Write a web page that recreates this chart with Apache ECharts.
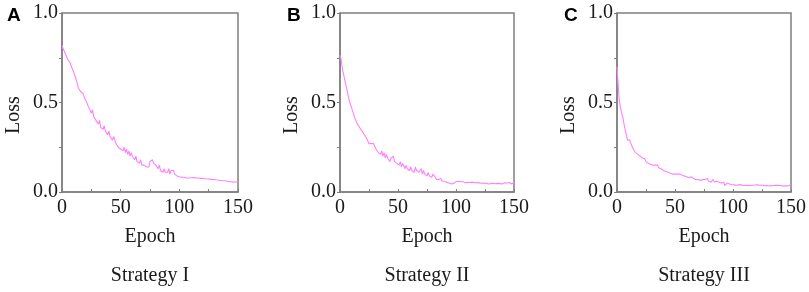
<!DOCTYPE html>
<html>
<head>
<meta charset="utf-8">
<script src="https://cdn.jsdelivr.net/npm/echarts@6/dist/echarts.min.js"></script>
<style>
html,body{margin:0;padding:0;background:#fff;}
#chart{width:809px;height:292px;}
</style>
</head>
<body>
<div id="chart"></div>
<script>
// ---- Data ----
const panelLetters = ['A', 'B', 'C'];
const strategyNames = ['Strategy I', 'Strategy II', 'Strategy III'];
const xTicks = [0, 50, 100, 150];
const yTicks = [0.0, 0.5, 1.0];

const lossA = [
  0.82, 0.80, 0.79, 0.77, 0.76, 0.74, 0.73, 0.72, 0.70, 0.69,
  0.67, 0.66, 0.63, 0.62, 0.58, 0.59, 0.56, 0.57, 0.55, 0.53,
  0.52, 0.50, 0.51, 0.47, 0.48, 0.44, 0.46, 0.42, 0.43, 0.40,
  0.41, 0.38, 0.40, 0.36, 0.37, 0.35, 0.37, 0.34, 0.35, 0.32,
  0.34, 0.31, 0.32, 0.29, 0.31, 0.30, 0.27, 0.28, 0.25, 0.26,
  0.24, 0.25, 0.23, 0.25, 0.22, 0.24, 0.21, 0.23, 0.20, 0.22,
  0.20, 0.21, 0.18, 0.20, 0.17, 0.18, 0.16, 0.18, 0.15, 0.16,
  0.15, 0.16, 0.14, 0.15, 0.14, 0.17, 0.16, 0.18, 0.16, 0.17,
  0.15, 0.16, 0.13, 0.15, 0.12, 0.13, 0.11, 0.13, 0.11, 0.12,
  0.11, 0.13, 0.10, 0.12, 0.11, 0.12, 0.10, 0.11, 0.09, 0.10,
  0.085, 0.090, 0.083, 0.088, 0.082, 0.086, 0.079, 0.084, 0.078, 0.082,
  0.080, 0.087, 0.081, 0.085, 0.079, 0.083, 0.078, 0.082, 0.076, 0.080,
  0.076, 0.080, 0.074, 0.078, 0.073, 0.078, 0.072, 0.075, 0.070, 0.074,
  0.070, 0.073, 0.067, 0.071, 0.066, 0.070, 0.064, 0.069, 0.063, 0.067,
  0.061, 0.066, 0.059, 0.064, 0.057, 0.062, 0.055, 0.061, 0.056, 0.059, 0.060
];

const lossB = [
  0.765, 0.74, 0.69, 0.66, 0.63, 0.60, 0.57, 0.54, 0.51, 0.49,
  0.47, 0.45, 0.43, 0.41, 0.40, 0.38, 0.38, 0.36, 0.35, 0.34,
  0.33, 0.32, 0.31, 0.30, 0.29, 0.27, 0.28, 0.27, 0.26, 0.27,
  0.26, 0.24, 0.25, 0.22, 0.23, 0.21, 0.23, 0.20, 0.22, 0.19,
  0.21, 0.19, 0.20, 0.17, 0.19, 0.18, 0.20, 0.17, 0.18, 0.16,
  0.17, 0.15, 0.17, 0.14, 0.16, 0.15, 0.13, 0.15, 0.13, 0.14,
  0.12, 0.14, 0.12, 0.13, 0.11, 0.14, 0.12, 0.13, 0.11, 0.12,
  0.13, 0.10, 0.12, 0.10, 0.11, 0.09, 0.11, 0.09, 0.10, 0.08,
  0.10, 0.09, 0.085, 0.07, 0.08, 0.07, 0.065, 0.075, 0.06, 0.07,
  0.060, 0.062, 0.055, 0.058, 0.050, 0.052, 0.045, 0.040, 0.048, 0.042,
  0.058, 0.055, 0.060, 0.056, 0.058, 0.053, 0.057, 0.055, 0.052, 0.056,
  0.054, 0.050, 0.053, 0.051, 0.055, 0.050, 0.052, 0.048, 0.053, 0.050,
  0.051, 0.054, 0.049, 0.052, 0.050, 0.053, 0.048, 0.051, 0.045, 0.050,
  0.047, 0.052, 0.049, 0.050, 0.046, 0.051, 0.048, 0.053, 0.047, 0.050,
  0.045, 0.049, 0.052, 0.047, 0.050, 0.046, 0.053, 0.048, 0.045, 0.050, 0.055
];

const lossC = [
  0.70, 0.60, 0.51, 0.47, 0.44, 0.42, 0.38, 0.35, 0.32, 0.29,
  0.30, 0.29, 0.27, 0.26, 0.24, 0.23, 0.22, 0.215, 0.21, 0.20,
  0.20, 0.19, 0.19, 0.18, 0.185, 0.17, 0.175, 0.16, 0.165, 0.155,
  0.16, 0.15, 0.145, 0.15, 0.14, 0.15, 0.135, 0.14, 0.13, 0.125,
  0.12, 0.13, 0.115, 0.12, 0.11, 0.115, 0.105, 0.11, 0.10, 0.105,
  0.10, 0.095, 0.10, 0.105, 0.10, 0.105, 0.095, 0.10, 0.09, 0.095,
  0.085, 0.09, 0.08, 0.09, 0.085, 0.08, 0.075, 0.085, 0.07, 0.08,
  0.07, 0.075, 0.065, 0.075, 0.07, 0.06, 0.07, 0.065, 0.075, 0.06,
  0.065, 0.055, 0.06, 0.07, 0.055, 0.05, 0.06, 0.05, 0.055, 0.045,
  0.05, 0.04, 0.055, 0.035, 0.045, 0.05, 0.04, 0.045, 0.035, 0.042,
  0.045, 0.04, 0.042, 0.038, 0.043, 0.04, 0.037, 0.041, 0.039, 0.036,
  0.04, 0.038, 0.041, 0.037, 0.039, 0.036, 0.04, 0.038, 0.035, 0.039,
  0.037, 0.04, 0.036, 0.038, 0.035, 0.039, 0.037, 0.034, 0.038, 0.036,
  0.039, 0.035, 0.037, 0.034, 0.038, 0.036, 0.033, 0.037, 0.035, 0.038,
  0.034, 0.036, 0.038, 0.033, 0.037, 0.035, 0.039, 0.034, 0.036, 0.038, 0.037
];

const lossSeries = [lossA, lossB, lossC];

// ---- Layout / style ----
const grids = [
  { left: 62, top: 13, width: 176, height: 179 },
  { left: 340, top: 13, width: 174, height: 179 },
  { left: 617, top: 13, width: 174, height: 179 }
];
const axisColor = '#7f7f7f';
const textColor = '#1a1a1a';
const serif = '"Liberation Serif", "Times New Roman", serif';
const lineColor = '#ff80ff';

const chart = echarts.init(document.getElementById('chart'), null, { renderer: 'canvas' });

const xAxes = grids.map((g, i) => ({
  type: 'value', gridIndex: i,
  min: xTicks[0], max: xTicks[xTicks.length - 1], interval: xTicks[1] - xTicks[0],
  axisLine: { show: true, lineStyle: { color: axisColor, width: 1.5 } },
  axisTick: { show: true, inside: true, length: 3, lineStyle: { color: axisColor } },
  minorTick: { show: true, splitNumber: 2, length: 3, lineStyle: { color: axisColor } },
  splitLine: { show: false },
  axisLabel: { color: textColor, fontFamily: serif, fontSize: 20, margin: 6 }
}));

const yAxes = grids.map((g, i) => ({
  type: 'value', gridIndex: i,
  min: yTicks[0], max: yTicks[yTicks.length - 1], interval: yTicks[1] - yTicks[0],
  axisLine: { show: true, lineStyle: { color: axisColor, width: 1.5 } },
  axisTick: { show: true, inside: false, length: 3, lineStyle: { color: axisColor } },
  minorTick: { show: true, splitNumber: 2, length: 3, lineStyle: { color: axisColor } },
  splitLine: { show: false },
  axisLabel: { color: textColor, fontFamily: serif, fontSize: 20, margin: 4,
               formatter: v => v.toFixed(1) }
}));

const series = lossSeries.map((arr, i) => ({
  type: 'line', xAxisIndex: i, yAxisIndex: i,
  data: arr.map((v, k) => [k, v]),
  showSymbol: false, symbol: 'none',
  lineStyle: { color: lineColor, width: 1.1 },
  animation: false
}));

const graphics = [];
grids.forEach((g, i) => {
  const cx = g.left + g.width / 2;
  graphics.push({ type: 'text', x: g.left - 55 + (i === 0 ? 0 : 2), y: 16,
    style: { text: panelLetters[i], fill: '#000', font: 'bold 19px "Liberation Sans", Arial, sans-serif',
             align: 'left', verticalAlign: 'middle' } });
  graphics.push({ type: 'text', x: g.left - 48, y: 115, rotation: Math.PI / 2,
    style: { text: 'Loss', fill: textColor, font: '20px ' + serif, align: 'center', verticalAlign: 'middle' } });
  graphics.push({ type: 'text', x: cx, y: 237,
    style: { text: 'Epoch', fill: textColor, font: '20px ' + serif, align: 'center', verticalAlign: 'middle' } });
  graphics.push({ type: 'text', x: cx, y: 276,
    style: { text: strategyNames[i], fill: textColor, font: '20px ' + serif, align: 'center', verticalAlign: 'middle' } });
});

chart.setOption({
  backgroundColor: '#ffffff',
  animation: false,
  grid: grids.map(g => Object.assign({ show: true, borderColor: axisColor, borderWidth: 1.5, backgroundColor: 'transparent' }, g)),
  xAxis: xAxes,
  yAxis: yAxes,
  series: series,
  graphic: graphics
});
</script>
</body>
</html>
